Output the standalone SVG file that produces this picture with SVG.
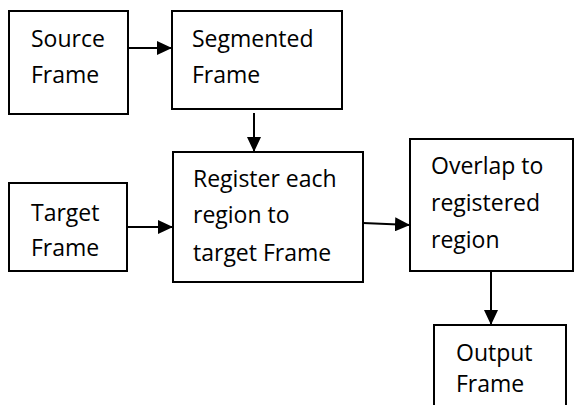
<svg xmlns="http://www.w3.org/2000/svg" width="576" height="405" viewBox="0 0 576 405">
<style>
.box{fill:#fff;stroke:#000;stroke-width:2}
.t{font-family:"Open Sans","Noto Sans","Liberation Sans",sans-serif;font-size:23px;fill:#000}
.c{stroke:#000;stroke-width:2;fill:none}
</style>
<defs>
<marker id="ah" markerWidth="15" markerHeight="14" refX="15" refY="7" orient="auto" markerUnits="userSpaceOnUse">
<path d="M0,0 L15,7 L0,14 Z" fill="#000"/>
</marker>
</defs>
<rect width="576" height="405" fill="#fff"/>
<g id="source">
<rect class="box" x="9" y="11" width="119" height="103"/>
<text class="t" x="31" y="47">Source</text>
<text class="t" x="31" y="83">Frame</text>
</g>
<g id="segmented">
<rect class="box" x="172" y="11" width="170" height="98"/>
<text class="t" x="192" y="47">Segmented</text>
<text class="t" x="192" y="83">Frame</text>
</g>
<g id="target">
<rect class="box" x="9" y="183" width="118" height="88"/>
<text class="t" x="31" y="221">Target</text>
<text class="t" x="31" y="256">Frame</text>
</g>
<g id="register">
<rect class="box" x="173" y="152" width="190" height="130"/>
<text class="t" x="193" y="187">Register each</text>
<text class="t" x="193" y="223">region to</text>
<text class="t" x="193" y="261">target Frame</text>
</g>
<g id="overlap">
<rect class="box" x="410" y="139" width="163" height="132"/>
<text class="t" x="431" y="174">Overlap to</text>
<text class="t" x="431" y="211">registered</text>
<text class="t" x="431" y="248">region</text>
</g>
<g id="output">
<rect class="box" x="434" y="325" width="132" height="90"/>
<text class="t" x="456" y="361">Output</text>
<text class="t" x="456" y="392">Frame</text>
</g>
<g id="connectors">
<line class="c" x1="128" y1="48" x2="172" y2="48" marker-end="url(#ah)"/>
<line class="c" x1="254" y1="113" x2="254" y2="152" marker-end="url(#ah)"/>
<line class="c" x1="127" y1="227" x2="173" y2="227" marker-end="url(#ah)"/>
<line class="c" x1="363" y1="223" x2="410" y2="225" marker-end="url(#ah)"/>
<line class="c" x1="491" y1="271" x2="491" y2="325" marker-end="url(#ah)"/>
</g>
</svg>
